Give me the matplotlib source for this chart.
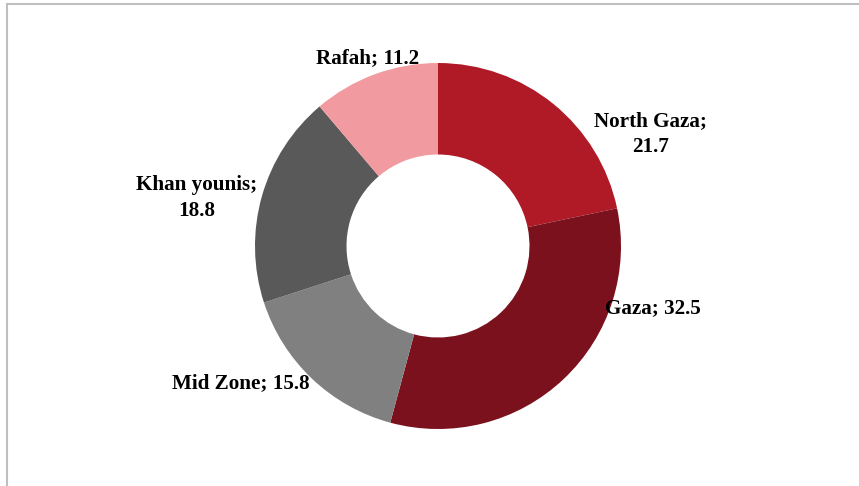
import matplotlib
matplotlib.use("Agg")
import matplotlib.pyplot as plt
from matplotlib.lines import Line2D

# share by governorate, clockwise from 12 o'clock
regions = ["North Gaza", "Gaza", "Mid Zone", "Khan younis", "Rafah"]
shares = [21.7, 32.5, 15.8, 18.8, 11.2]
colors = ["#B01A27", "#7B111C", "#808080", "#595959", "#F19AA0"]

W, H = 859, 486
fig = plt.figure(figsize=(W / 100, H / 100), dpi=100)
ax = fig.add_axes([0, 0, 1, 1])

cx, cy, r = 438, H - 246, 183
ax.pie(shares, colors=colors, startangle=90, counterclock=False,
       center=(cx, cy), radius=r,
       wedgeprops=dict(width=r * 0.5, linewidth=0))
ax.set_xlim(0, W)
ax.set_ylim(0, H)
ax.set_aspect("equal")
ax.axis("off")

# label spots in pixel coords (x from left, y from top)
spots = {
    "North Gaza": (651, 134, True),
    "Gaza": (653, 308, False),
    "Mid Zone": (241, 383, False),
    "Khan younis": (197, 198, True),
    "Rafah": (368, 58, False),
}
for name, val in zip(regions, shares):
    x, y, wrap = spots[name]
    sep = ";\n" if wrap else "; "
    ax.text(x, H - y, name + sep + "%.1f" % val, ha="center", va="center",
            fontsize=15.2, fontweight="bold", family="Liberation Serif",
            linespacing=1.45, color="black")

# chart area border (left and top edges visible)
fig.add_artist(Line2D([7 / W, 7 / W], [0, 1 - 4 / H], transform=fig.transFigure,
                      color="#BFBFBF", linewidth=1.5))
fig.add_artist(Line2D([7 / W, 1], [1 - 4.5 / H, 1 - 4.5 / H], transform=fig.transFigure,
                      color="#BFBFBF", linewidth=1.5))

fig.savefig("out.png", dpi=100, facecolor="white")
